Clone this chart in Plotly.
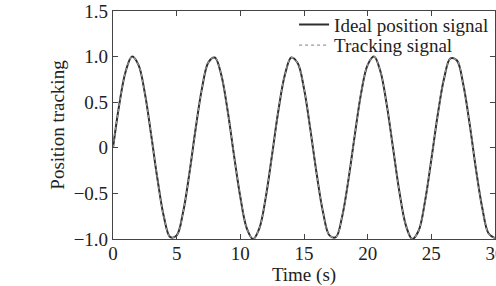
import plotly.graph_objects as go

time_s = [0.0, 0.5, 1.0, 1.5, 2.0, 2.5, 3.0, 3.5, 4.0, 4.5, 5.0, 5.5, 6.0, 6.5, 7.0, 7.5,
          8.0, 8.5, 9.0, 9.5, 10.0, 10.5, 11.0, 11.5, 12.0, 12.5, 13.0, 13.5, 14.0, 14.5,
          15.0, 15.5, 16.0, 16.5, 17.0, 17.5, 18.0, 18.5, 19.0, 19.5, 20.0, 20.5, 21.0,
          21.5, 22.0, 22.5, 23.0, 23.5, 24.0, 24.5, 25.0, 25.5, 26.0, 26.5, 27.0, 27.5,
          28.0, 28.5, 29.0, 29.5, 30.0]

ideal_position = [0.00, 0.48, 0.84, 1.00, 0.91, 0.60, 0.14, -0.35, -0.76, -0.98, -0.96,
                  -0.71, -0.28, 0.22, 0.66, 0.94, 0.99, 0.80, 0.41, -0.08, -0.54, -0.88,
                  -1.00, -0.88, -0.54, -0.07, 0.42, 0.80, 0.99, 0.93, 0.65, 0.20, -0.29,
                  -0.71, -0.96, -0.98, -0.75, -0.34, 0.15, 0.61, 0.91, 1.00, 0.84, 0.47,
                  -0.01, -0.49, -0.85, -1.00, -0.91, -0.59, -0.13, 0.36, 0.76, 0.98, 0.96,
                  0.70, 0.27, -0.23, -0.66, -0.94, -0.99]

tracking_position = [0.00, 0.48, 0.84, 1.00, 0.91, 0.60, 0.14, -0.35, -0.76, -0.98, -0.96,
                     -0.71, -0.28, 0.22, 0.66, 0.94, 0.99, 0.80, 0.41, -0.08, -0.54, -0.88,
                     -1.00, -0.88, -0.54, -0.07, 0.42, 0.80, 0.99, 0.93, 0.65, 0.20, -0.29,
                     -0.71, -0.96, -0.98, -0.75, -0.34, 0.15, 0.61, 0.91, 1.00, 0.84, 0.47,
                     -0.01, -0.49, -0.85, -1.00, -0.91, -0.59, -0.13, 0.36, 0.76, 0.98, 0.96,
                     0.70, 0.27, -0.23, -0.66, -0.94, -0.99]

x_ticks = [0, 5, 10, 15, 20, 25, 30]
y_ticks = [-1.0, -0.5, 0, 0.5, 1.0, 1.5]
y_tick_labels = ["\u22121.0", "\u22120.5", "0", "0.5", "1.0", "1.5"]

FONT = "Liberation Serif, Times New Roman, serif"

fig = go.Figure()
fig.add_trace(go.Scatter(
    x=time_s, y=ideal_position, mode="lines", name="Ideal position signal",
    line=dict(color="#2e2e2e", width=2.0, shape="spline", smoothing=1.0),
    legend="legend",
))
fig.add_trace(go.Scatter(
    x=time_s, y=tracking_position, mode="lines", name="Tracking signal",
    line=dict(color="#9a9a9a", width=1.2, dash="dot", shape="spline", smoothing=1.0),
    legend="legend2",
))

axis_common = dict(
    showgrid=False, zeroline=False, showline=True, linecolor="#444444", linewidth=1.2,
    mirror="ticks", ticks="inside", ticklen=5, tickcolor="#444444", tickwidth=1,
    tickfont=dict(family=FONT, size=19, color="#222222"), automargin=False,
)

legend_common = dict(xanchor="left", yanchor="middle", bgcolor="rgba(0,0,0,0)",
                     font=dict(family=FONT, size=19, color="#222222"),
                     itemwidth=30, borderwidth=0)

fig.update_layout(
    width=496, height=286,
    margin=dict(l=113, r=1, t=11, b=47, autoexpand=False),
    paper_bgcolor="white", plot_bgcolor="white",
    font=dict(family=FONT, size=19, color="#222222"),
    xaxis=dict(range=[0, 30], tickvals=x_ticks, ticktext=[str(v) for v in x_ticks],
               ticklabeloverflow="allow", ticklabelstandoff=-3,
               title=dict(text="Time (s)", standoff=4, font=dict(family=FONT, size=19)),
               **axis_common),
    yaxis=dict(range=[-1.0, 1.5], tickvals=y_ticks, ticktext=y_tick_labels,
               title=dict(text="Position tracking", standoff=3, font=dict(family=FONT, size=19)),
               **axis_common),
    legend=dict(x=0.474, y=0.94, **legend_common),
    legend2=dict(x=0.474, y=0.85, **legend_common),
    showlegend=True,
)

fig.write_html("out.html")
